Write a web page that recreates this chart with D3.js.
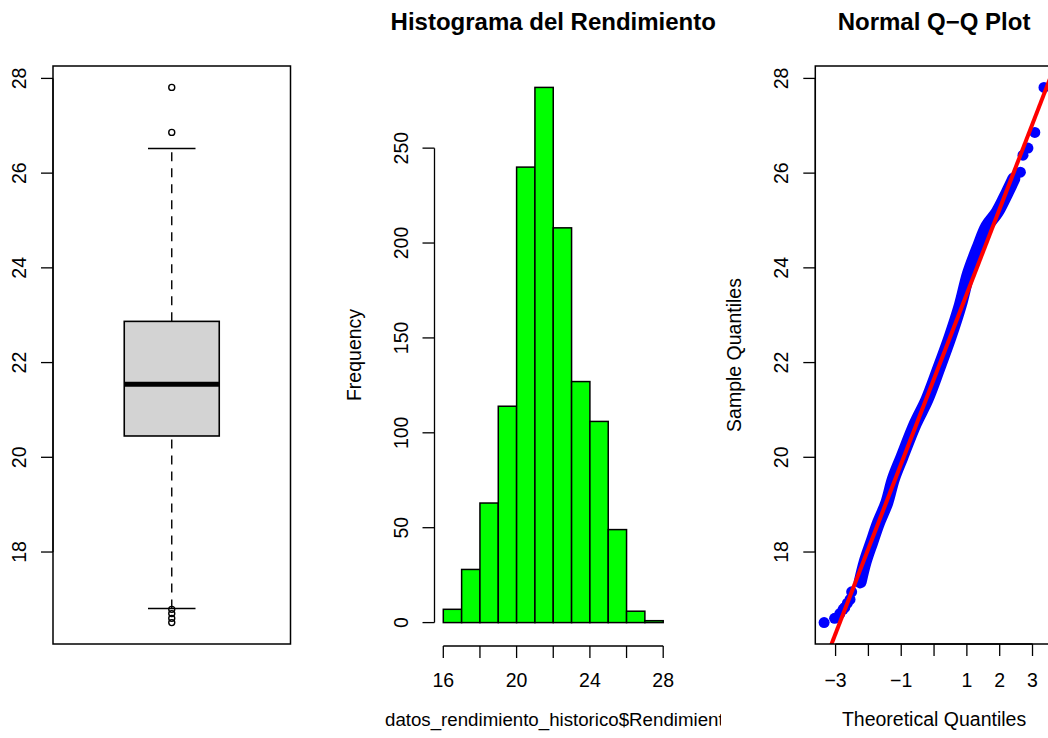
<!DOCTYPE html>
<html>
<head>
<meta charset="utf-8">
<script src="https://cdn.jsdelivr.net/npm/d3@7"></script>
<style>
  body { margin: 0; background: white; }
  svg { display: block; font-family: "Liberation Sans", Arial, sans-serif; }
</style>
</head>
<body>
<div id="viz"></div>
<script>
// Global variables
const width = 1048,
      height = 738;
const plotTop = 66, plotBottom = 644;
const panelLeft = [53, 434.5, 815.3],
      panelWidth = 237.5;

const titleHist = 'Histograma del Rendimiento',
      titleQQ = 'Normal Q\u2212Q Plot',
      xlabHist = 'datos_rendimiento_historico$Rendimiento';

// Data
// boxplot: lower whisker, Q1, median, Q3, upper whisker
const boxStats = [16.81, 20.45, 21.54, 22.87, 26.52];
const boxOutliers = [27.81, 26.86, 16.79, 16.70, 16.60, 16.51];
const sampleRange = [16.51, 27.81];

// histogram
const histBreaks = [16, 17, 18, 19, 20, 21, 22, 23, 24, 25, 26, 27, 28];
const histCounts = [7, 28, 63, 114, 240, 282, 208, 127, 106, 49, 6, 1];

// ticks
const valueTicks = [18, 20, 22, 24, 26, 28];
const freqTicks = [0, 50, 100, 150, 200, 250];
const histXTicks = [16, 18, 20, 22, 24, 26, 28];
const histXLabels = [16, 20, 24, 28];
const qqXTicks = [-3, -2, -1, 0, 1, 2, 3];
const qqXLabels = [-3, -1, 1, 2, 3];

// QQ points (theoretical quantile, sample quantile)
const qqTheo = [-3.35, -3.03, -2.87, -2.77, -2.72, -2.64, -2.56, -2.51, -2.25, -2.10, -1.90, -1.69,
                -1.44, -1.24, -0.98, -0.57, -0.22, 0.14, 0.49, 0.80, 1.05, 1.36, 1.61, 1.92,
                2.23, 2.43, 2.63, 2.71, 2.86, 3.07, 3.35];
const qqSample = [16.51, 16.60, 16.70, 16.79, 16.83, 16.92, 17.00, 17.16, 17.37, 17.79, 18.20, 18.62,
                  19.04, 19.54, 20.00, 20.71, 21.21, 21.87, 22.54, 23.21, 23.88, 24.46, 24.88, 25.17,
                  25.59, 25.88, 26.02, 26.38, 26.53, 26.86, 27.81];

const svg = d3.select('#viz').append('svg')
    .attr('width', width)
    .attr('height', height)
    .style('background', 'white');

// R style range with 4% extension
function ext(r) {
    const d = (r[1] - r[0]) * 0.04;
    return [r[0] - d, r[1] + d];
}

const yValue = d3.scaleLinear().domain(ext(sampleRange)).range([plotBottom, plotTop]);

function yAxisLeft(x, scale, ticks) {
    const g = svg.append('g').attr('class', 'yaxis');
    g.append('line')
        .attr('x1', x).attr('x2', x)
        .attr('y1', scale(ticks[0])).attr('y2', scale(ticks[ticks.length - 1]))
        .attr('stroke', 'black').attr('stroke-width', 1.3);
    g.selectAll('.tk').data(ticks).enter().append('line')
        .attr('x1', x - 12).attr('x2', x)
        .attr('y1', d => scale(d)).attr('y2', d => scale(d))
        .attr('stroke', 'black').attr('stroke-width', 1.3);
    g.selectAll('text').data(ticks).enter().append('text')
        .attr('transform', d => `translate(${x - 27},${scale(d)}) rotate(-90)`)
        .attr('text-anchor', 'middle')
        .attr('font-size', '19.5px')
        .text(d => d);
}

function xAxisBottom(y, scale, ticks, labels) {
    const g = svg.append('g').attr('class', 'xaxis');
    g.append('line')
        .attr('x1', scale(ticks[0])).attr('x2', scale(ticks[ticks.length - 1]))
        .attr('y1', y).attr('y2', y)
        .attr('stroke', 'black').attr('stroke-width', 1.3);
    g.selectAll('.tk').data(ticks).enter().append('line')
        .attr('x1', d => scale(d)).attr('x2', d => scale(d))
        .attr('y1', y).attr('y2', y + 12)
        .attr('stroke', 'black').attr('stroke-width', 1.3);
    g.selectAll('text').data(labels).enter().append('text')
        .attr('x', d => scale(d))
        .attr('y', 687)
        .attr('text-anchor', 'middle')
        .attr('font-size', '19.5px')
        .text(d => d < 0 ? '\u2212' + Math.abs(d) : d);
}

function frame(x0) {
    svg.append('rect')
        .attr('x', x0).attr('y', plotTop)
        .attr('width', panelWidth).attr('height', plotBottom - plotTop)
        .attr('fill', 'none')
        .attr('stroke', 'black').attr('stroke-width', 1.5);
}

// ---------- Panel 1: boxplot ----------
const bx = panelLeft[0];
const xBox = d3.scaleLinear().domain([0.5, 1.5]).range([bx, bx + panelWidth]);
const cx = xBox(1), boxHalf = xBox(1.2) - xBox(1), capHalf = boxHalf / 2;

// whiskers
svg.selectAll('.whisk').data([[boxStats[0], boxStats[1]], [boxStats[3], boxStats[4]]])
    .enter().append('line')
    .attr('x1', cx).attr('x2', cx)
    .attr('y1', d => yValue(d[0])).attr('y2', d => yValue(d[1]))
    .attr('stroke', 'black').attr('stroke-width', 1.4)
    .attr('stroke-dasharray', '9,7');
svg.selectAll('.cap').data([boxStats[0], boxStats[4]])
    .enter().append('line')
    .attr('x1', cx - capHalf).attr('x2', cx + capHalf)
    .attr('y1', d => yValue(d)).attr('y2', d => yValue(d))
    .attr('stroke', 'black').attr('stroke-width', 1.5);
svg.append('rect')
    .attr('x', cx - boxHalf).attr('width', 2 * boxHalf)
    .attr('y', yValue(boxStats[3]))
    .attr('height', yValue(boxStats[1]) - yValue(boxStats[3]))
    .attr('fill', '#d3d3d3')
    .attr('stroke', 'black').attr('stroke-width', 1.6);
svg.append('line')
    .attr('x1', cx - boxHalf).attr('x2', cx + boxHalf)
    .attr('y1', yValue(boxStats[2])).attr('y2', yValue(boxStats[2]))
    .attr('stroke', 'black').attr('stroke-width', 5);
svg.selectAll('.out').data(boxOutliers)
    .enter().append('circle')
    .attr('cx', cx).attr('cy', d => yValue(d))
    .attr('r', 3)
    .attr('fill', 'none')
    .attr('stroke', 'black').attr('stroke-width', 1.4);
frame(bx);
yAxisLeft(bx, yValue, valueTicks);

// ---------- Panel 2: histogram ----------
const hx = panelLeft[1];
const xHist = d3.scaleLinear()
    .domain(ext([histBreaks[0], histBreaks[histBreaks.length - 1]]))
    .range([hx, hx + panelWidth]);
const yHist = d3.scaleLinear()
    .domain(ext([0, d3.max(histCounts)]))
    .range([plotBottom, plotTop]);

svg.append('g').selectAll('rect').data(histCounts)
    .enter().append('rect')
    .attr('x', (d, i) => xHist(histBreaks[i]))
    .attr('width', (d, i) => xHist(histBreaks[i + 1]) - xHist(histBreaks[i]))
    .attr('y', d => yHist(d))
    .attr('height', d => yHist(0) - yHist(d))
    .attr('fill', '#00ff00')
    .attr('stroke', 'black').attr('stroke-width', 1.5);

yAxisLeft(hx, yHist, freqTicks);
xAxisBottom(plotBottom + 2, xHist, histXTicks, histXLabels);

svg.append('text')
    .attr('x', hx + panelWidth / 2).attr('y', 30)
    .attr('text-anchor', 'middle')
    .attr('font-size', '24px').attr('font-weight', 'bold')
    .text(titleHist);

// x label is cut off by the next panel, as in the original
svg.append('clipPath').attr('id', 'clipHist')
    .append('rect').attr('x', 370).attr('y', 690).attr('width', 351).attr('height', 48);
svg.append('text')
    .attr('clip-path', 'url(#clipHist)')
    .attr('x', 385).attr('y', 726)
    .attr('text-anchor', 'start')
    .attr('font-size', '18.7px')
    .text(xlabHist);

svg.append('text')
    .attr('transform', `translate(${hx - 74},${(plotTop + plotBottom) / 2}) rotate(-90)`)
    .attr('text-anchor', 'middle')
    .attr('font-size', '19.5px')
    .text('Frequency');

// ---------- Panel 3: normal QQ plot ----------
const qx = panelLeft[2];
const xQQ = d3.scaleLinear()
    .domain(ext([qqTheo[0], qqTheo[qqTheo.length - 1]]))
    .range([qx, qx + panelWidth]);

svg.append('clipPath').attr('id', 'clipQQ')
    .append('rect').attr('x', qx).attr('y', plotTop).attr('width', panelWidth).attr('height', plotBottom - plotTop);

const qqData = qqTheo.map((t, i) => [t, qqSample[i]]);
const qqG = svg.append('g').attr('clip-path', 'url(#clipQQ)');

// dense middle part of the point cloud
const dense = qqData.filter(d => d[0] >= -2.3 && d[0] <= 2.5);
qqG.append('path')
    .datum(dense)
    .attr('d', d3.line().x(d => xQQ(d[0])).y(d => yValue(d[1])).curve(d3.curveCatmullRom))
    .attr('fill', 'none')
    .attr('stroke', '#0000ff')
    .attr('stroke-width', 13)
    .attr('stroke-linejoin', 'round')
    .attr('stroke-linecap', 'round');
qqG.selectAll('circle').data(qqData)
    .enter().append('circle')
    .attr('cx', d => xQQ(d[0]))
    .attr('cy', d => yValue(d[1]))
    .attr('r', 5.5)
    .attr('fill', '#0000ff');

// qqline through the quartiles
const qSlope = (boxStats[3] - boxStats[1]) / 1.349,
      qInt = (boxStats[1] + boxStats[3]) / 2;
const lineX = xQQ.domain();
qqG.append('line')
    .attr('x1', xQQ(lineX[0])).attr('y1', yValue(qInt + qSlope * lineX[0]))
    .attr('x2', xQQ(lineX[1])).attr('y2', yValue(qInt + qSlope * lineX[1]))
    .attr('stroke', '#ff0000').attr('stroke-width', 4);

frame(qx);
yAxisLeft(qx, yValue, valueTicks);
xAxisBottom(plotBottom, xQQ, qqXTicks, qqXLabels);

svg.append('text')
    .attr('x', qx + panelWidth / 2).attr('y', 30)
    .attr('text-anchor', 'middle')
    .attr('font-size', '24px').attr('font-weight', 'bold')
    .text(titleQQ);
svg.append('text')
    .attr('x', qx + panelWidth / 2).attr('y', 726)
    .attr('text-anchor', 'middle')
    .attr('font-size', '19.5px')
    .text('Theoretical Quantiles');
svg.append('text')
    .attr('transform', `translate(${qx - 74},${(plotTop + plotBottom) / 2}) rotate(-90)`)
    .attr('text-anchor', 'middle')
    .attr('font-size', '19.5px')
    .text('Sample Quantiles');
</script>
</body>
</html>
